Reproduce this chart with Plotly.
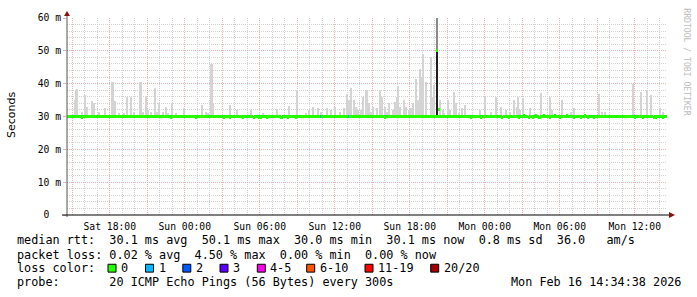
import pandas as pd
import plotly.graph_objects as go

# ---------------- data ----------------
START = pd.Timestamp("2026-02-14 14:34:38")
END = pd.Timestamp("2026-02-16 14:34:38")
STEP = pd.Timedelta(minutes=5)

y_tick_vals = [0, 10, 20, 30, 40, 50, 60]
y_tick_text = ["0\u00a0\u00a0", "10 m", "20 m", "30 m", "40 m", "50 m", "60 m"]

x_label_times = ["2026-02-14 18:00", "2026-02-15 00:00", "2026-02-15 06:00", "2026-02-15 12:00",
                 "2026-02-15 18:00", "2026-02-16 00:00", "2026-02-16 06:00", "2026-02-16 12:00"]
x_label_text = ["Sat 18:00", "Sun 00:00", "Sun 06:00", "Sun 12:00",
                "Sun 18:00", "Mon 00:00", "Mon 06:00", "Mon 12:00"]

# median rtt (ms): normal level and deviations (hours after START)
median_level_ms = 30.1
median_dev_hours = [1.2, 8.37, 10.3, 12.6, 13.0, 14.05, 14.96, 15.3, 15.5, 16.0, 17.1, 17.2, 17.65,
                    18.3, 25.44, 32.3, 33.07, 34.8, 34.88, 35.3, 36.2, 36.6, 36.95, 37.25, 37.5,
                    37.75, 37.85, 38.2, 38.7, 39.0, 39.4, 40.0, 40.6, 41.05, 41.13, 41.4, 41.65,
                    42.2, 45.4, 46.05, 46.95, 47.05, 47.65]
median_dev_ms = [29.6, 29.7, 29.8, 29.8, 29.8, 29.7, 29.7, 29.8, 29.7, 29.8, 29.7, 29.7, 29.7,
                 29.8, 29.7, 29.7, 29.7, 29.7, 29.7, 29.7, 29.6, 30.4, 29.7, 29.6, 30.4,
                 29.7, 29.7, 30.4, 29.7, 30.4, 29.8, 30.4, 29.6, 29.7, 29.7, 30.4, 29.6,
                 29.8, 29.7, 29.7, 29.7, 29.7, 29.6]
spike_median_hours = [29.55, 29.63, 29.72]
spike_median_ms = [None, 50.1, 32.0]
loss1_hours = [20.32, 22.6]          # slots with 1/20 lost

# smoke (spread of the 20 pings): top of smoke per slot
smoke_hours = [0.64, 0.72, 0.80, 0.88, 1.15, 1.44, 1.60, 2.03, 2.19, 2.59, 2.99, 3.63, 3.71, 3.84,
               4.19, 4.56, 4.83, 5.07, 5.31, 5.81, 5.89, 6.11, 6.35, 6.51, 6.77, 6.99, 7.17, 7.36,
               7.71, 7.95, 8.11, 8.40, 8.72, 9.31, 10.85, 11.07, 11.25, 11.52, 11.60, 11.68,
               12.99, 13.60, 14.72, 15.65, 16.80, 17.79, 18.45, 19.12, 19.33, 19.71, 20.05, 20.32,
               20.85, 21.12, 21.39, 21.84, 22.19, 22.40, 22.59, 22.75, 22.90, 23.07, 23.25, 23.47,
               23.71, 23.92, 24.00, 24.19, 24.35, 24.51, 24.80, 24.99, 25.20, 25.44, 25.60, 25.79,
               26.11, 26.27, 26.40, 26.51, 26.67, 26.91, 27.07, 27.33, 27.52, 27.71, 27.92, 28.10,
               28.24, 28.40, 28.50, 28.78, 29.10, 29.20, 29.33, 29.84, 30.05, 30.20, 30.53, 30.70,
               30.93, 31.12, 31.30, 31.60, 31.87, 32.99, 33.39, 33.92, 34.37, 34.72, 35.12, 35.44,
               35.79, 35.98, 36.05, 36.24, 36.51, 36.99, 37.92, 38.67, 38.85, 39.60, 40.32, 40.59,
               42.59, 42.80, 42.99, 45.25, 45.92, 46.45, 46.72, 47.44, 47.65]
smoke_top_ms = [35.0, 38.0, 38.3, 35.5, 31.5, 36.7, 33.0, 34.8, 34.0, 31.5, 32.5, 40.5, 40.5, 34.8,
                31.0, 31.2, 35.8, 35.8, 31.5, 40.5, 40.5, 31.5, 36.2, 32.0, 31.5, 38.7, 31.5, 34.0,
                31.5, 33.0, 31.0, 34.0, 31.0, 32.5, 33.5, 31.5, 31.0, 46.0, 46.0, 34.0,
                33.5, 32.0, 32.0, 31.0, 32.2, 33.2, 38.0, 31.0, 32.0, 33.0, 32.5, 31.5,
                32.5, 32.0, 33.0, 31.5, 32.5, 37.0, 35.0, 38.7, 35.0, 33.0, 32.0, 32.0,
                36.0, 38.0, 38.0, 34.0, 31.5, 33.0, 32.5, 38.0, 36.0, 33.0, 31.5, 34.0,
                32.0, 34.5, 36.0, 39.2, 33.0, 35.0, 33.0, 32.0, 32.5, 34.0, 41.5, 35.0,
                44.5, 42.0, 49.0, 40.5, 48.0, 36.0, 39.5, 35.0, 32.0, 31.0, 35.0, 32.0,
                37.5, 34.0, 31.0, 32.5, 33.5, 32.0, 36.0, 31.5, 36.0, 33.0, 32.0, 31.5,
                35.0, 33.0, 36.0, 32.0, 35.5, 32.5, 37.2, 36.0, 32.0, 35.0, 31.5, 32.5,
                37.0, 31.5, 31.5, 39.8, 37.5, 38.0, 36.5, 32.5, 31.5]
dense_smoke_hours = [29.55, 29.63]
dense_smoke_top_ms = [50.1, 50.1]
outlier_hours = [29.63]
outlier_top_ms = [60.0]

legend_labels = ["0", "1", "2", "3", "4-5", "6-10", "11-19", "20/20"]
legend_colors = ["#26ff00", "#00b8ff", "#0059ff", "#5e00ff", "#ff00ef", "#ff5500", "#ff0000", "#a10000"]

stats_rtt = "median rtt:  30.1 ms avg  50.1 ms max  30.0 ms min  30.1 ms now  0.8 ms sd  36.0   am/s"
stats_loss = "packet loss: 0.02 % avg  4.50 % max  0.00 % min  0.00 % now"
probe_text = "probe:       20 ICMP Echo Pings (56 Bytes) every 300s"
stamp_text = "Mon Feb 16 14:34:38 2026"

# ---------------- build ----------------
slots = pd.date_range(START.ceil("5min"), END, freq="5min")


def slot_of(h):
    return int(round((START + pd.Timedelta(hours=h) - slots[0]) / STEP))


median = [median_level_ms] * len(slots)
color = [legend_colors[0]] * len(slots)
for h, v in zip(median_dev_hours, median_dev_ms):
    median[slot_of(h)] = v
for h, v in zip(spike_median_hours, spike_median_ms):
    median[slot_of(h)] = v
for h in loss1_hours:
    color[slot_of(h)] = legend_colors[1]

W = 300000  # bar width = one step, ms
BAND = 0.9  # median band thickness, ms

fig = go.Figure()


def smoke_trace(hours, tops, col):
    xs = [slots[slot_of(h)] for h in hours]
    return go.Bar(x=xs, y=[t - 30.0 for t in tops], base=[30.0] * len(tops), width=W,
                  marker=dict(color=col, line=dict(width=0)), hoverinfo="skip", showlegend=False)


fig.add_trace(smoke_trace(smoke_hours, smoke_top_ms, "#d4d4d4"))
fig.add_trace(smoke_trace(outlier_hours, outlier_top_ms, "#8a8a8a"))
fig.add_trace(smoke_trace(dense_smoke_hours, dense_smoke_top_ms, "#1e1e1e"))

mx = [t for t, m in zip(slots, median) if m is not None]
mb = [m - BAND / 2 for m in median if m is not None]
mc = [c for c, m in zip(color, median) if m is not None]
fig.add_trace(go.Bar(x=mx, y=[BAND] * len(mx), base=mb, width=W,
                     marker=dict(color=mc, line=dict(width=0)), hoverinfo="skip", showlegend=False))

# ---------------- layout ----------------
L, R, T, B = 67, 667, 15, 215
FW, FH = 697, 297


def px(x):
    return (x - L) / (R - L)


def py(y):
    return (B - y) / (B - T)


MONO = "DejaVu Sans Mono"
MGRID = "#ebb0b0"
GRID = "#d2d2d2"
major_ticks = pd.date_range("2026-02-14 15:00", "2026-02-16 12:00", freq="3h")
lab = dict(zip(pd.to_datetime(x_label_times), x_label_text))
major_text = [lab.get(t, "") for t in major_ticks]
minor_ticks = pd.date_range("2026-02-14 15:00", "2026-02-16 14:00", freq="1h")

fig.update_layout(
    width=FW, height=FH, margin=dict(l=L, r=FW - R, t=T, b=FH - B),
    paper_bgcolor="white", plot_bgcolor="white",
    barmode="overlay", bargap=0, showlegend=False,
    xaxis=dict(type="date", range=[START, END], tickmode="array", tickvals=list(major_ticks),
               ticktext=major_text, showgrid=True, gridcolor=MGRID, griddash="1px,1px",
               gridwidth=1, ticks="", showline=False, zeroline=False, ticklabelstandoff=4,
               tickfont=dict(family=MONO, size=9.7, color="#000"),
               minor=dict(tickmode="array", tickvals=list(minor_ticks), showgrid=True,
                          gridcolor=GRID, griddash="1px,1px", ticks="")),
    yaxis=dict(range=[0, 60], tickmode="array", tickvals=y_tick_vals, ticktext=y_tick_text,
               showgrid=True, gridcolor=MGRID, griddash="1px,1px", zeroline=False,
               showline=False, ticks="outside", ticklen=3, tickcolor=MGRID,
               tickfont=dict(family=MONO, size=9.7, color="#000"),
               minor=dict(dtick=2, showgrid=True, gridcolor=GRID, griddash="1px,1px")),
)

shapes = [
    dict(type="line", xref="paper", yref="paper", x0=px(67), x1=px(67), y0=py(217), y1=py(12),
         line=dict(color="#555", width=1)),
    dict(type="line", xref="paper", yref="paper", x0=px(62), x1=px(670), y0=py(215), y1=py(215),
         line=dict(color="#000", width=1)),
    dict(type="path", xref="paper", yref="paper", fillcolor="#8b1010", line=dict(width=0),
         path=f"M {px(64)} {py(13)} L {px(70)} {py(13)} L {px(67)} {py(8)} Z"),
    dict(type="path", xref="paper", yref="paper", fillcolor="#8b1010", line=dict(width=0),
         path=f"M {px(669)} {py(212)} L {px(669)} {py(218)} L {px(675)} {py(215)} Z"),
]

annotations = []


def text(s, x, y, size=11.8, family=MONO, color="#000", xanchor="left", angle=0):
    annotations.append(dict(text=s.replace(" ", "\u00a0"), x=px(x), y=py(y), xref="paper",
                            yref="paper", showarrow=False, xanchor=xanchor, yanchor="middle",
                            textangle=angle, font=dict(family=family, size=size, color=color)))


text(stats_rtt, 15, 240.8)
text(stats_loss, 15, 255.2)
text("loss color:", 15, 268.8)
text(probe_text, 15, 283.2)
text(stamp_text, 508.5, 283.2)
text("Seconds", 11, 113.5, size=11, family="DejaVu Sans", xanchor="center", angle=-90)
text("RRDTOOL / TOBI OETIKER", 687, 59, size=8.1, color="#bdbdbd", xanchor="center", angle=90)

sq_left = [108, 145.5, 182.8, 220, 257.3, 306.7, 365, 430.7]
for x0, c, lbl in zip(sq_left, legend_colors, legend_labels):
    shapes.append(dict(type="rect", xref="paper", yref="paper", x0=px(x0), x1=px(x0 + 8),
                       y0=py(273), y1=py(265), fillcolor=c, line=dict(color="#000", width=1)))
    text(lbl, x0 + 11, 268.8)

fig.update_layout(shapes=shapes, annotations=annotations)
fig.write_html("out.html")
